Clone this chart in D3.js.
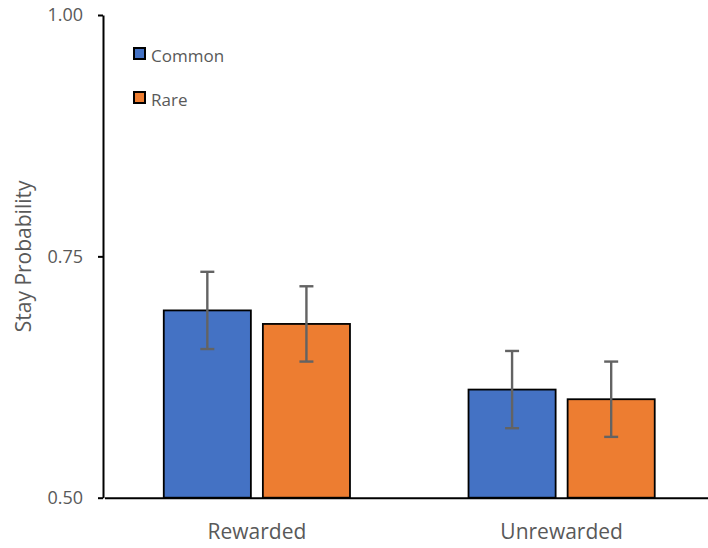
<!DOCTYPE html>
<html>
<head>
<meta charset="utf-8">
<script src="https://cdn.jsdelivr.net/npm/d3@7"></script>
<style>
  body { margin: 0; background: #fff; }
  text { font-family: "Open Sans", sans-serif; fill: #595959; }
</style>
</head>
<body>
<div id="chart"></div>
<script>
// DATA
const groups = ['Rewarded', 'Unrewarded'];
const series = ['Common', 'Rare'];
const commonValues = [0.694, 0.612];
const commonErrors = [0.040, 0.040];
const rareValues = [0.680, 0.602];
const rareErrors = [0.039, 0.039];
const yTicks = [0.50, 0.75, 1.00];

const COLORS = { Common: '#4472C4', Rare: '#ED7D31' };

// FIGURE DIMENSIONS
const FIGURE = { WIDTH: 708, HEIGHT: 548 };
const PLOT = { LEFT: 103, RIGHT: 714, TOP: 15, BOTTOM: 497.7 };

const rows = [];
groups.forEach((g, i) => {
    rows.push({ group: g, key: 'Common', value: commonValues[i], err: commonErrors[i] });
    rows.push({ group: g, key: 'Rare', value: rareValues[i], err: rareErrors[i] });
});

// Axes
const x0 = d3.scaleBand()
    .domain(groups)
    .range([PLOT.LEFT + 1.5, PLOT.RIGHT])
    .paddingInner(0.389)
    .paddingOuter(0.1945);

const x1 = d3.scaleBand()
    .domain(series)
    .range([0, x0.bandwidth()])
    .paddingInner(0.121);

const y = d3.scaleLinear()
    .domain([0.5, 1.0])
    .range([PLOT.BOTTOM, PLOT.TOP]);

const canvas = d3.select('#chart')
    .append('svg')
        .attr('width', FIGURE.WIDTH)
        .attr('height', FIGURE.HEIGHT);

// bars
canvas.append('g')
    .selectAll('rect')
    .data(rows)
    .enter()
    .append('rect')
        .attr('x', d => x0(d.group) + x1(d.key))
        .attr('y', d => y(d.value))
        .attr('width', x1.bandwidth())
        .attr('height', d => y(0.5) - y(d.value))
        .attr('fill', d => COLORS[d.key])
        .attr('stroke', '#000')
        .attr('stroke-width', 1.8);

// error bars
const err = canvas.append('g')
    .selectAll('g')
    .data(rows)
    .enter()
    .append('g')
        .attr('stroke', '#636363')
        .attr('stroke-width', 2.4);

const cx = d => x0(d.group) + x1(d.key) + x1.bandwidth() / 2;
err.append('line')
    .attr('x1', cx).attr('x2', cx)
    .attr('y1', d => y(d.value + d.err))
    .attr('y2', d => y(d.value - d.err));
err.append('line')
    .attr('x1', d => cx(d) - 7).attr('x2', d => cx(d) + 7)
    .attr('y1', d => y(d.value + d.err))
    .attr('y2', d => y(d.value + d.err));
err.append('line')
    .attr('x1', d => cx(d) - 7).attr('x2', d => cx(d) + 7)
    .attr('y1', d => y(d.value - d.err))
    .attr('y2', d => y(d.value - d.err));

// y axis
const yAxis = canvas.append('g')
    .attr('transform', `translate(${PLOT.LEFT}, 0)`)
    .call(d3.axisLeft(y)
        .tickValues(yTicks)
        .tickFormat(d3.format('.2f'))
        .tickSize(5)
        .tickSizeOuter(0)
        .tickPadding(15));
yAxis.selectAll('text').attr('font-size', 18);

// x axis
const xAxis = canvas.append('g')
    .attr('transform', `translate(0, ${PLOT.BOTTOM})`)
    .call(d3.axisBottom(x0)
        .tickSize(0)
        .tickPadding(26));
xAxis.selectAll('text').attr('font-size', 21);

canvas.selectAll('.domain, .tick line')
    .attr('stroke', '#000')
    .attr('stroke-width', 2);
canvas.selectAll('.tick text').attr('fill', '#595959');

// axis title
canvas.append('text')
    .attr('transform', `translate(31, ${(PLOT.TOP + PLOT.BOTTOM) / 2}) rotate(-90)`)
    .attr('text-anchor', 'middle')
    .attr('font-size', 21)
    .text('Stay Probability');

// legend
const legend = canvas.append('g')
    .selectAll('g')
    .data(series)
    .enter()
    .append('g')
        .attr('transform', (d, i) => `translate(134, ${48 + i * 44})`);

legend.append('rect')
    .attr('width', 11)
    .attr('height', 11)
    .attr('fill', d => COLORS[d])
    .attr('stroke', '#000')
    .attr('stroke-width', 2);

legend.append('text')
    .attr('x', 17)
    .attr('y', 14)
    .attr('font-size', 17)
    .text(d => d);
</script>
</body>
</html>
